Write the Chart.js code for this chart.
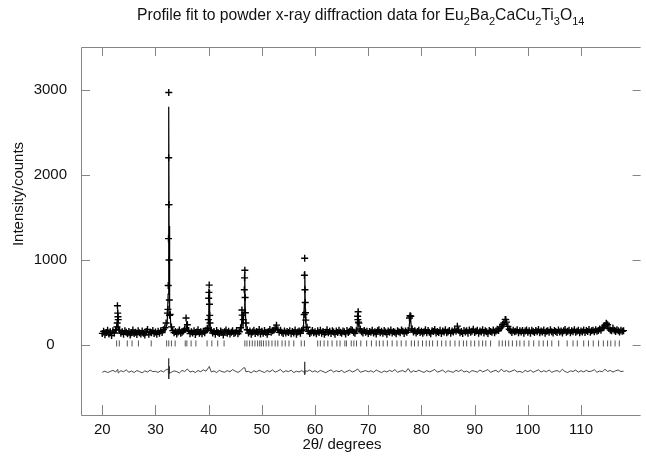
<!DOCTYPE html>
<html>
<head>
<meta charset="utf-8">
<script src="https://cdn.jsdelivr.net/npm/chart.js@4/dist/chart.umd.min.js"></script>
<style>
  body { margin: 0; background: #fff; }
  #myChart { display: block; }
</style>
</head>
<body>
<canvas id="myChart" width="646" height="456"></canvas>
<script>
// axis ticks
const xTickValues = [20, 30, 40, 50, 60, 70, 80, 90, 100, 110];
const yTickValues = [0, 1000, 2000, 3000];

// observed counts, one every 0.25 deg from 20 to 118
const obsStart = 20;
const obsStep = 0.25;
const obsCounts = [
  138,162,121,149,175,130,156,112,168,143,182,215,300,176,141,158,127,169,150,134,
  161,119,147,178,136,152,124,170,145,131,166,140,118,159,183,129,151,146,172,138,
  155,128,163,141,170,149,182,205,260,376,1650,360,214,171,147,160,132,155,178,139,
  150,166,190,318,240,172,135,157,144,169,126,153,181,140,158,133,162,147,175,198,
  550,260,175,143,160,128,171,149,136,165,152,119,158,177,141,163,130,150,168,137,
  146,172,133,158,205,412,300,790,260,181,142,165,129,154,176,138,160,147,185,131,
  162,139,171,148,127,157,183,150,168,176,200,235,180,150,174,151,138,166,143,159,
  148,170,135,161,144,178,129,155,167,140,172,188,820,294,210,163,137,150,171,145,
  156,133,168,149,175,141,160,127,152,180,146,163,138,170,155,129,166,148,174,151,
  140,167,158,132,171,149,163,185,176,152,139,168,340,258,190,157,143,172,150,164,
  137,161,150,176,143,158,131,169,182,147,163,139,172,155,128,166,150,178,143,160,
  151,134,170,157,145,179,162,138,166,150,173,318,340,190,155,168,142,161,176,148,
  163,139,157,180,146,171,152,135,168,159,184,143,160,149,175,137,166,153,181,145,
  158,171,140,167,154,182,163,223,175,147,160,138,172,155,169,141,178,150,164,186,
  149,162,175,140,167,153,181,144,170,158,136,173,160,152,179,145,165,188,171,197,
  215,243,262,302,270,220,186,170,149,176,158,163,180,145,169,155,172,141,166,178,
  152,168,140,175,160,148,171,157,183,146,165,153,177,139,162,170,150,181,158,144,
  173,161,149,178,155,167,142,170,185,152,164,176,147,169,158,180,151,163,174,146,
  166,155,177,149,171,160,183,150,168,175,158,181,163,172,190,176,205,212,230,258,
  240,195,178,170,200,175,160,182,168,155,176,162,170
];

// extra observed points up the sharp peaks
const peakObsAngle = [22.8, 22.85, 22.9, 22.95, 32.35, 32.4, 32.45, 32.48, 32.5, 32.52, 32.55, 32.6, 32.65,
  39.95, 40.05, 40.1, 40.15, 40.2, 46.3, 46.7, 46.8, 46.85, 46.9,
  57.95, 58.05, 58.1, 58.15, 58.2, 68.05, 68.1, 68.15, 77.85, 95.85, 114.8];
const peakObsCounts = [260, 462, 376, 333, 420, 700, 1250, 2200, 2965, 1650, 1000, 530, 350,
  300, 620, 705, 480, 350, 353, 650, 880, 560, 380,
  360, 1020, 650, 500, 380, 300, 392, 270, 345, 300, 250];

// calculated profile
const calcAngle = [20, 22.6, 22.8, 22.88, 22.96, 23.15,
  31.8, 32.2, 32.38, 32.47, 32.51, 32.56, 32.66, 32.9, 33.4,
  35.7, 35.88, 36.05, 39.9, 40.02, 40.1, 40.18, 40.35,
  46.1, 46.28, 46.45, 46.65, 46.78, 46.88, 47.05, 52.5, 52.75, 53.0,
  57.8, 57.98, 58.07, 58.16, 58.35, 58.7, 67.85, 68.05, 68.12, 68.3,
  77.6, 77.82, 77.95, 78.15, 86.5, 86.75, 87.0,
  95.0, 95.5, 95.85, 96.2, 96.7, 114.2, 114.75, 115.2, 115.6, 116.05, 116.4, 118];
const calcCounts = [145, 150, 230, 420, 250, 155,
  160, 250, 600, 2000, 2800, 1400, 450, 220, 160,
  155, 280, 160, 165, 400, 650, 300, 160,
  170, 380, 200, 400, 860, 420, 175, 160, 215, 160,
  170, 500, 870, 450, 180, 155, 160, 330, 360, 170,
  160, 300, 320, 165, 160, 200, 160,
  170, 230, 280, 210, 165, 170, 240, 190, 165, 190, 165, 162];

// difference curve (obs - calc, offset), every 0.5 deg
const diffStart = 20;
const diffStep = 0.5;
const diffCounts = [
  -318,-305,-322,-309,-296,-315,-326,-300,-312,-290,-318,-304,-321,-298,-310,-325,-302,-316,-293,-311,
  -307,-320,-299,-314,-288,-300,-318,-302,-311,-326,-297,-309,-280,-316,-305,-321,-298,-312,-290,-306,
  -262,-315,-303,-322,-296,-310,-318,-299,-313,-287,-306,-320,-300,-270,-312,-308,-324,-301,-314,-295,
  -309,-321,-298,-313,-290,-317,-304,-285,-319,-300,-311,-294,-322,-306,-315,-299,-320,-308,-292,-314,
  -301,-318,-296,-310,-323,-305,-289,-316,-300,-312,-297,-321,-307,-294,-315,-303,-280,-318,-309,-298,
  -313,-300,-319,-292,-308,-322,-303,-315,-296,-310,-287,-318,-305,-299,-316,-275,-320,-301,-312,-294,
  -309,-320,-298,-314,-302,-285,-317,-306,-293,-321,-300,-311,-318,-296,-309,-290,-315,-304,-322,-299,
  -306,-317,-292,-313,-301,-287,-320,-305,-296,-318,-282,-310,-299,-316,-303,-290,-314,-308,-321,-297,
  -311,-295,-318,-304,-289,-316,-300,-313,-292,-319,-306,-298,-315,-284,-310,-321,-302,-309,-293,-317,
  -300,-314,-296,-311,-305,-288,-319,-303,-312,-283,-309,-297,-316,-301,-292,-310,-306
];
const diffSpikeAngle = [22.9, 32.4, 32.45, 32.52, 32.56, 32.62, 40.1, 46.8, 58.02, 58.06, 58.1, 58.15];
const diffSpikeCounts = [-285, -280, -156, -395, -250, -330, -250, -265, -300, -196, -345, -300];

// reflection positions (tick marks under the pattern)
const reflections = [22.7, 23.2, 24.7, 25.6, 26.8, 29.2, 32.1, 32.5, 33.0, 33.7, 35.6, 35.9, 36.7, 37.6,
  39.7, 40.6, 41.7, 42.9, 46.8, 47.2, 47.7, 48.2, 48.7, 49.2, 49.6, 49.9, 50.3, 50.8, 51.3, 51.9,
  52.5, 53.0, 53.8, 54.4, 55.1, 56.0, 57.4, 58.0, 60.5, 61.0, 61.7, 62.4, 63.2, 64.1, 64.7, 65.6,
  65.9, 66.8, 67.3, 67.8, 68.6, 69.7, 70.6, 71.5, 72.1, 72.8, 73.6, 74.5, 75.4, 76.2, 77.1, 78.1,
  78.7, 79.4, 80.2, 80.9, 81.5, 82.1, 83.0, 83.8, 84.6, 85.4, 86.3, 87.1, 87.9, 88.5, 89.3, 90.0,
  90.8, 91.5, 92.1, 93.0, 94.6, 95.2, 95.8, 96.4, 97.1, 97.9, 98.5, 99.3, 100.2, 101.1, 102.1,
  102.9, 103.7, 104.5, 105.8, 107.4, 108.5, 109.3, 110.5, 111.4, 112.3, 113.3, 114.2, 115.0,
  115.6, 116.4, 117.2];
const reflectionLevel = 20;

const FONT = '"Liberation Sans", Arial, Helvetica, sans-serif';

const obsPoints = obsCounts.map((c, i) => ({ x: obsStart + i * obsStep, y: c }))
  .concat(peakObsAngle.map((a, i) => ({ x: a, y: peakObsCounts[i] })));
const calcPoints = calcAngle.map((a, i) => ({ x: a, y: calcCounts[i] }));
const diffPoints = diffCounts.map((c, i) => ({ x: diffStart + i * diffStep, y: c }))
  .concat(diffSpikeAngle.map((a, i) => ({ x: a, y: diffSpikeCounts[i] })))
  .sort((a, b) => a.x - b.x);
const reflPoints = reflections.map(a => ({ x: a, y: reflectionLevel }));

// frame, inward ticks and the texts that chart.js can't place the same way
const framePlugin = {
  id: 'frame',
  beforeDatasetsDraw(chart) {
    const { ctx, chartArea: a, scales: { x, y } } = chart;
    ctx.save();
    ctx.strokeStyle = '#858585';
    ctx.lineWidth = 1;
    ctx.beginPath();
    ctx.moveTo(a.right, a.top + 0.5); ctx.lineTo(a.left + 0.5, a.top + 0.5);
    ctx.lineTo(a.left + 0.5, a.bottom + 0.5); ctx.lineTo(a.right, a.bottom + 0.5);
    xTickValues.forEach(v => {
      const px = Math.round(x.getPixelForValue(v)) + 0.5;
      ctx.moveTo(px, a.bottom); ctx.lineTo(px, a.bottom - 10);
      ctx.moveTo(px, a.top); ctx.lineTo(px, a.top + 9);
    });
    yTickValues.forEach(v => {
      const py = Math.round(y.getPixelForValue(v)) + 0.5;
      ctx.moveTo(a.left, py); ctx.lineTo(a.left + 9, py);
      ctx.moveTo(a.right, py); ctx.lineTo(a.right - 8, py);
    });
    ctx.stroke();
    ctx.restore();
  },
  afterDraw(chart) {
    const { ctx } = chart;
    ctx.save();
    ctx.fillStyle = '#111';
    // title with subscripts
    const parts = [['Profile fit to powder x-ray diffraction data for Eu', 0], ['2', 1], ['Ba', 0], ['2', 1],
      ['CaCu', 0], ['2', 1], ['Ti', 0], ['3', 1], ['O', 0], ['14', 1]];
    const big = '15.7px ' + FONT, small = '11px ' + FONT;
    let cx = 137;
    ctx.textBaseline = 'alphabetic';
    ctx.textAlign = 'left';
    parts.forEach(p => {
      ctx.font = p[1] ? small : big;
      ctx.fillText(p[0], cx, p[1] ? 25 : 20);
      cx += ctx.measureText(p[0]).width;
    });
    // axis titles
    ctx.font = '15px ' + FONT;
    ctx.textAlign = 'center';
    ctx.textBaseline = 'middle';
    ctx.fillText('2\u03b8/ degrees', 342, 445);
    ctx.translate(19, 194);
    ctx.rotate(-Math.PI / 2);
    ctx.fillText('Intensity/counts', 0, 0);
    ctx.restore();
  }
};

new Chart(document.getElementById('myChart'), {
  type: 'scatter',
  data: {
    datasets: [
      {
        label: 'reflections',
        data: reflPoints,
        pointStyle: 'line',
        rotation: 90,
        pointRadius: 3,
        borderColor: '#555',
        borderWidth: 1,
      },
      {
        label: 'observed',
        data: obsPoints,
        pointStyle: 'cross',
        pointRadius: 3.5,
        borderColor: '#000',
        borderWidth: 1.4,
      },
      {
        label: 'calculated',
        data: calcPoints,
        showLine: true,
        pointRadius: 0,
        borderColor: '#000',
        borderWidth: 1.2,
      },
      {
        label: 'difference',
        data: diffPoints,
        showLine: true,
        pointRadius: 0,
        borderColor: '#333',
        borderWidth: 0.9,
      },
    ],
  },
  options: {
    responsive: false,
    animation: false,
    layout: { padding: { top: 47, left: 0, right: 0, bottom: 0 } },
    plugins: {
      legend: { display: false },
      tooltip: { enabled: false },
    },
    scales: {
      x: {
        type: 'linear',
        min: 16,
        max: 121.2,
        grid: { display: false, drawTicks: false },
        border: { display: false },
        afterBuildTicks: s => { s.ticks = xTickValues.map(v => ({ value: v })); },
        afterFit: s => { s.height = 41; },
        ticks: { color: '#111', padding: 6, font: { family: FONT, size: 15 } },
      },
      y: {
        min: -820,
        max: 3500,
        grid: { display: false, drawTicks: false },
        border: { display: false },
        afterBuildTicks: s => { s.ticks = yTickValues.map(v => ({ value: v })); },
        afterFit: s => { s.width = 81; },
        ticks: {
          color: '#111', padding: 14, crossAlign: 'center',
          font: { family: FONT, size: 15 },
          callback: v => String(v),
        },
      },
    },
  },
  plugins: [framePlugin],
});
</script>
</body>
</html>
